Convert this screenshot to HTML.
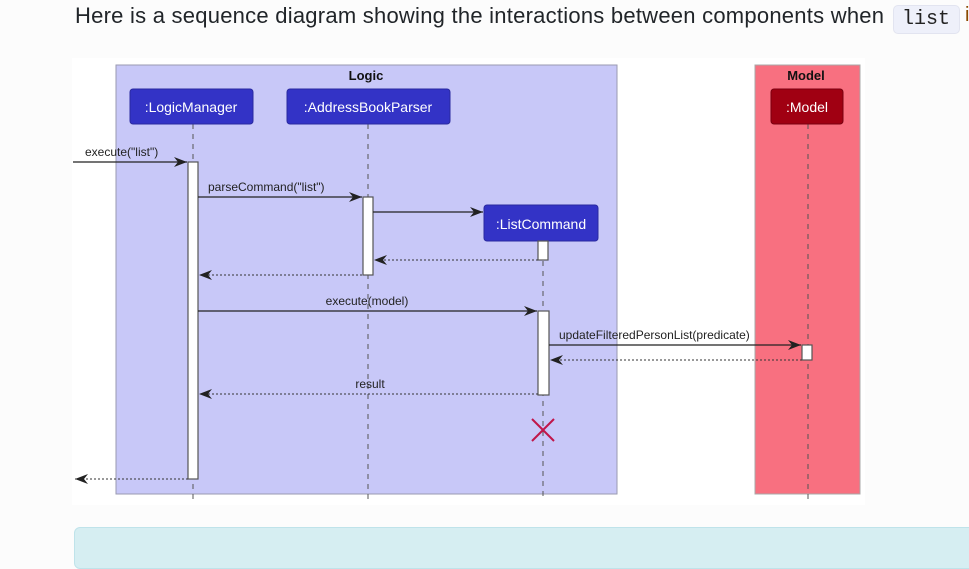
<!DOCTYPE html>
<html><head><meta charset="utf-8"><style>
html,body{margin:0;padding:0;width:969px;height:542px;overflow:hidden;background:#fcfcfc;font-family:"Liberation Sans",sans-serif;}
.t{position:absolute;left:75px;top:3px;font-size:22px;color:#212529;white-space:nowrap;letter-spacing:0.24px}
.code{position:absolute;left:893px;top:5px;width:67px;height:29px;background:#eef0fa;border:1px solid #e2e4f0;border-radius:5px;box-sizing:border-box;font-family:"Liberation Mono",monospace;font-size:20px;line-height:27px;padding-left:8px;color:#222}
.i{position:absolute;left:965px;top:4px;font-size:20px;color:#8a4a00}
.note{position:absolute;left:74px;top:527px;width:920px;height:40px;background:#d6eef2;border:1px solid #bfe3ea;border-radius:6px}
svg{position:absolute;left:0;top:0}
</style></head><body>
<div class="t">Here is a sequence diagram showing the interactions between components when</div>
<div class="code">list</div><div class="i">i</div>
<div class="note"></div>
<svg width="969" height="542" font-family="Liberation Sans, sans-serif">
<defs>
<marker id="a" markerWidth="14" markerHeight="10" refX="13" refY="5" orient="auto" markerUnits="userSpaceOnUse"><path d="M0,0 L13,5 L0,10 L4,5 Z" fill="#222"/></marker>
</defs>
<rect x="72" y="58" width="793" height="447" fill="#ffffff"/>
<rect x="116" y="65" width="501" height="429" fill="#c8c8f8" stroke="#9a9ab0" stroke-width="1"/>
<rect x="755" y="65" width="105" height="429" fill="#f87080" stroke="#a8a8a8" stroke-width="1"/>
<text x="366" y="80" font-size="13" font-weight="bold" text-anchor="middle" fill="#111">Logic</text>
<text x="806" y="80" font-size="13" font-weight="bold" text-anchor="middle" fill="#111">Model</text>
<g stroke="#555" stroke-width="1" stroke-dasharray="5,5">
<line x1="193" y1="124" x2="193" y2="500"/>
<line x1="368" y1="124" x2="368" y2="500"/>
<line x1="543" y1="241" x2="543" y2="500"/>
<line x1="808" y1="124" x2="808" y2="500"/>
</g>
<rect x="130" y="89" width="123" height="35" rx="3" fill="#3333c6" stroke="#2a2aa0"/>
<text x="191" y="112" font-size="14" fill="#fff" text-anchor="middle">:LogicManager</text>
<rect x="287" y="89" width="163" height="35" rx="3" fill="#3333c6" stroke="#2a2aa0"/>
<text x="368" y="112" font-size="14" fill="#fff" text-anchor="middle">:AddressBookParser</text>
<rect x="484" y="205" width="114" height="36" rx="3" fill="#3333c6" stroke="#2a2aa0"/>
<text x="541" y="229" font-size="14" fill="#fff" text-anchor="middle">:ListCommand</text>
<rect x="771" y="89" width="72" height="35" rx="3" fill="#a00012" stroke="#7a0010"/>
<text x="807" y="112" font-size="14" fill="#fff" text-anchor="middle">:Model</text>
<g fill="#fff" stroke="#555" stroke-width="1.2">
<rect x="188" y="162" width="10" height="317"/>
<rect x="363" y="197" width="10" height="78"/>
<rect x="538" y="241" width="10" height="19"/>
<rect x="538" y="311" width="11" height="84"/>
<rect x="802" y="345" width="10" height="15"/>
</g>
<g stroke="#222" stroke-width="1.2" fill="none">
<line x1="73" y1="162" x2="187" y2="162" marker-end="url(#a)"/>
<line x1="198" y1="197" x2="362" y2="197" marker-end="url(#a)"/>
<line x1="373" y1="212" x2="483" y2="212" marker-end="url(#a)"/>
<line x1="198" y1="311" x2="537" y2="311" marker-end="url(#a)"/>
<line x1="549" y1="345" x2="801" y2="345" marker-end="url(#a)"/>
</g>
<g stroke="#333" stroke-width="1" fill="none" stroke-dasharray="2,2">
<line x1="538" y1="260" x2="374" y2="260" marker-end="url(#a)"/>
<line x1="362" y1="275" x2="199" y2="275" marker-end="url(#a)"/>
<line x1="802" y1="360" x2="550" y2="360" marker-end="url(#a)"/>
<line x1="538" y1="394" x2="199" y2="394" marker-end="url(#a)"/>
<line x1="188" y1="479" x2="75" y2="479" marker-end="url(#a)"/>
</g>
<g font-size="12" fill="#222">
<text x="85" y="156">execute("list")</text>
<text x="208" y="191">parseCommand("list")</text>
<text x="367" y="305" text-anchor="middle">execute(model)</text>
<text x="559" y="339">updateFilteredPersonList(predicate)</text>
<text x="370" y="388" text-anchor="middle">result</text>
</g>
<g stroke="#c0164a" stroke-width="2">
<line x1="532" y1="419" x2="554" y2="441"/>
<line x1="554" y1="419" x2="532" y2="441"/>
</g>
</svg>
</body></html>
